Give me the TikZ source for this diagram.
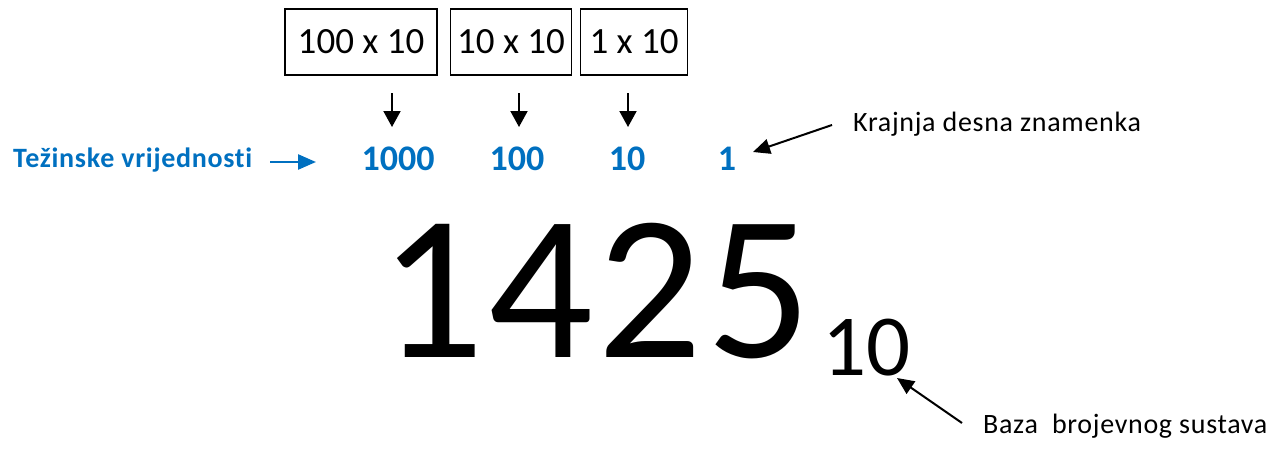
\documentclass[tikz,border=0pt]{standalone}
\usepackage{fontspec}
\setmainfont{Carlito}[Ligatures=NoCommon]
\newfontfamily\notefont{Carlito}[LetterSpace=2.5,Ligatures=NoCommon]
\newfontfamily\bigfont{Carlito}[LetterSpace=2]
\usetikzlibrary{arrows.meta}
\definecolor{wblue}{HTML}{0070C0}
\tikzset{
  multbox/.style={draw, line width=1.2pt, minimum height=66pt, inner sep=0pt, font=\fontsize{37}{44}\selectfont},
  weight/.style={anchor=base, text=wblue, inner sep=0pt, font=\fontsize{36}{43}\selectfont\bfseries},
  note/.style={anchor=base west, inner sep=0pt, font=\notefont\fontsize{28}{34}\selectfont},
  downarr/.style={line width=2pt, -{Triangle[width=17pt,length=16pt]}},
  notearr/.style={line width=2pt, -{Triangle[width=15pt,length=17pt]}},
}
\begin{document}
\begin{tikzpicture}[x=1pt,y=-1pt]
\useasboundingbox (0,0) rectangle (1282,455);
% boxes
\node[multbox, minimum width=152pt] (b1) at (361,42) {100 x 10};
\node[multbox, minimum width=121pt] (b2) at (511,42) {10 x 10};
\node[multbox, minimum width=107pt] (b3) at (634,42) {1 x 10};
% down arrows
\coordinate (a1s) at (392,93); \coordinate (a1e) at (392,127);
\coordinate (a2s) at (519,93); \coordinate (a2e) at (519,127);
\coordinate (a3s) at (628,93); \coordinate (a3e) at (628,127);
\draw[downarr] (a1s) -- (a1e);
\draw[downarr] (a2s) -- (a2e);
\draw[downarr] (a3s) -- (a3e);
% weights
\node[weight] (w1000) at (398,170) {1000};
\node[weight] (w100) at (517,170) {100};
\node[weight] (w10) at (627,170) {10};
\node[weight] (w1) at (727,170) {1};
% label
\node[note, text=wblue, font=\notefont\fontsize{28}{34}\selectfont\bfseries] (tez) at (13,167) {Težinske vrijednosti};
\coordinate (bs) at (270,162); \coordinate (be) at (316,162);
\draw[line width=2.5pt, wblue, -{Triangle[width=15pt,length=18pt]}] (bs) -- (be);
% big number
\node[anchor=base west, inner sep=0pt, font=\bigfont\fontsize{207}{240}\selectfont] (num) at (379,357) {1425};
\node[anchor=base west, inner sep=0pt, font=\fontsize{87}{100}\selectfont] (base) at (822,375) {10};
% notes
\node[note] (kr) at (853,131) {Krajnja desna znamenka};
\coordinate (ks) at (832,125); \coordinate (ke) at (753,152);
\draw[notearr] (ks) -- (ke);
\node[note] (bz) at (983,433) {Baza\ \ brojevnog sustava};
\coordinate (zs) at (962,423); \coordinate (ze) at (897,378);
\draw[notearr] (zs) -- (ze);
\end{tikzpicture}
\end{document}
